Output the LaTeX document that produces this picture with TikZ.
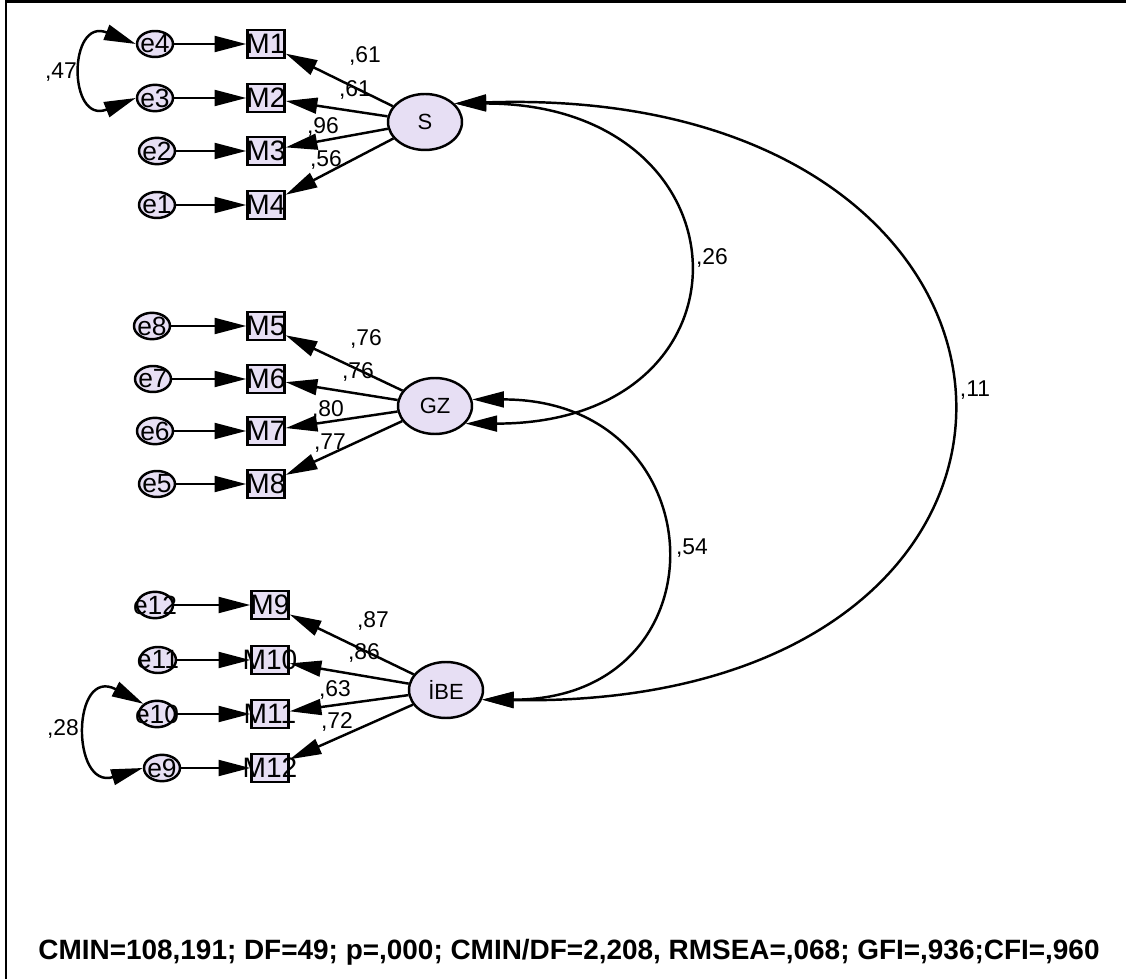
\documentclass[tikz,border=0pt]{standalone}
\usepackage{fontspec}
\setmainfont{Liberation Sans}
\usetikzlibrary{arrows.meta,shapes.geometric}
\definecolor{nodefill}{RGB}{231,223,244}
\begin{document}
\begin{tikzpicture}[x=0.02cm,y=-0.02cm,
  lat/.style={ellipse,draw,line width=1.4pt,fill=nodefill,minimum width=1.48cm,minimum height=1.12cm,inner sep=0pt,font=\fontsize{12.5}{13}\selectfont},
  err/.style={ellipse,draw,line width=1.4pt,fill=nodefill,minimum width=0.72cm,minimum height=0.42cm,inner sep=0pt,font=\fontsize{15}{15}\selectfont},
  obs/.style={rectangle,draw,line width=1.4pt,fill=nodefill,minimum width=0.74cm,minimum height=0.56cm,inner sep=0pt,font=\fontsize{16}{16}\selectfont},
  lbl/.style={font=\fontsize{13}{14}\selectfont,inner sep=0pt},
  arr/.style={-{Triangle[length=18pt,width=9pt]},line width=1.4pt},
  cov/.style={{Triangle[length=18pt,width=9pt]}-{Triangle[length=18pt,width=9pt]},line width=1.4pt}
]
\useasboundingbox (0,0) rectangle (1126,979);
\draw[line width=1.7pt] (6,979) -- (6,2) -- (1126,2);

% S block
\node[err] (e4) at (155,44) {\makebox[0pt]{e4}};
\node[err] (e3) at (155,98) {\makebox[0pt]{e3}};
\node[err] (e2) at (157,151) {\makebox[0pt]{e2}};
\node[err] (e1) at (157,205) {\makebox[0pt]{e1}};
\node[obs] (M1) at (266,44) {\makebox[0pt]{M1}};
\node[obs] (M2) at (266,98) {\makebox[0pt]{M2}};
\node[obs] (M3) at (266,151) {\makebox[0pt]{M3}};
\node[obs] (M4) at (266,205) {\makebox[0pt]{M4}};
\node[lat] (S) at (425,122) {S};

% GZ block
\node[err] (e8) at (152,326) {\makebox[0pt]{e8}};
\node[err] (e7) at (153,379) {\makebox[0pt]{e7}};
\node[err] (e6) at (155,431) {\makebox[0pt]{e6}};
\node[err] (e5) at (157,484) {\makebox[0pt]{e5}};
\node[obs] (M5) at (266,326) {\makebox[0pt]{M5}};
\node[obs] (M6) at (266,379) {\makebox[0pt]{M6}};
\node[obs] (M7) at (266,431) {\makebox[0pt]{M7}};
\node[obs] (M8) at (266,484) {\makebox[0pt]{M8}};
\node[lat] (GZ) at (435,406) {GZ};

% IBE block
\node[err] (e12) at (155,605) {\makebox[0pt]{e12}};
\node[err] (e11) at (158,660) {\makebox[0pt]{e11}};
\node[err] (e10) at (157,714) {\makebox[0pt]{e10}};
\node[err] (e9) at (162,768) {\makebox[0pt]{e9}};
\node[obs] (M9) at (270,605) {\makebox[0pt]{M9}};
\node[obs] (M10) at (270,660) {\makebox[0pt]{M10}};
\node[obs] (M11) at (270,714) {\makebox[0pt]{M11}};
\node[obs] (M12) at (270,768) {\makebox[0pt]{M12}};
\node[lat] (IBE) at (446,690) {İBE};

% error arrows
\foreach \e/\m in {e4/M1,e3/M2,e2/M3,e1/M4,e8/M5,e7/M6,e6/M7,e5/M8,e12/M9,e11/M10,e10/M11,e9/M12}
  \draw[arr] (\e) -- (\m);

% loadings
\foreach \l/\m in {S/M1,S/M2,S/M3,S/M4,GZ/M5,GZ/M6,GZ/M7,GZ/M8,IBE/M9,IBE/M10,IBE/M11,IBE/M12}
  \draw[arr] (\l) -- (\m);

% error covariances
\draw[cov] (e4.west) .. controls +(-68,-27) and +(-68,27) .. (e3.west);
\draw[cov] (e10.north west) .. controls +(-72,-38) and +(-72,22) .. (e9.west);

% factor covariances
\draw[cov] (S.32) .. controls +(640,-22) and +(640,10) .. (IBE.-15);
\draw[cov] (S.32) .. controls +(300,0) and +(300,0) .. (GZ.-30);
\draw[cov] (GZ.10) .. controls +(247,0) and +(247,0) .. (IBE.-15);

% labels
\node[lbl] (l1) at (365,56) {,61};
\node[lbl] (l2) at (355,90) {,61};
\node[lbl] (l3) at (323,127) {,96};
\node[lbl] (l4) at (326,160) {,56};
\node[lbl] (l5) at (366,339) {,76};
\node[lbl] (l6) at (358,372) {,76};
\node[lbl] (l7) at (328,410) {,80};
\node[lbl] (l8) at (330,443) {,77};
\node[lbl] (l9) at (373,621) {,87};
\node[lbl] (l10) at (364,653) {,86};
\node[lbl] (l11) at (335,690) {,63};
\node[lbl] (l12) at (337,722) {,72};
\node[lbl] (l13) at (61,72) {,47};
\node[lbl] (l14) at (63,729) {,28};
\node[lbl] (l15) at (712,258) {,26};
\node[lbl] (l16) at (975,390) {,11};
\node[lbl] (l17) at (692,548) {,54};

\node[font=\bfseries\fontsize{15.9}{17}\selectfont,inner sep=0pt] (fit) at (569,952) {CMIN=108,191; DF=49; p=,000; CMIN/DF=2,208, RMSEA=,068; GFI=,936;CFI=,960};
\end{tikzpicture}
\end{document}
